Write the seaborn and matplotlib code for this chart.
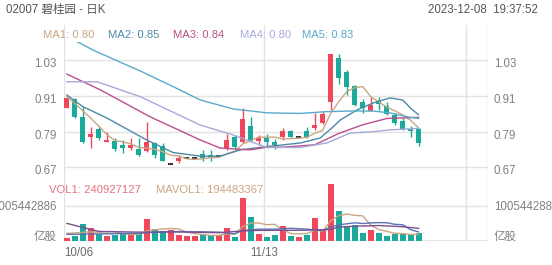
import numpy as np
import pandas as pd
import matplotlib
matplotlib.use("Agg")
import matplotlib.pyplot as plt
import matplotlib.transforms as mtransforms
import seaborn as sns

# ---------------- data ----------------
title = "02007 碧桂园 - 日K"
timestamp = "2023-12-08  19:37:52"
date_ticks = ["10/06", "11/13"]

open_ = [0.870, 0.899, 0.840, 0.772, 0.799, 0.754, 0.760, 0.745, 0.734, 0.732,
         0.725, 0.751, 0.743, 0.682, 0.692, 0.703, 0.703, 0.714, 0.712, 0.710,
         0.732, 0.771, 0.754, 0.810, 0.759, 0.773, 0.754, 0.773, 0.793, 0.773,
         0.792, 0.801, 0.818, 0.888, 1.038, 0.989, 0.943, 0.889, 0.859, 0.894,
         0.877, 0.846, 0.827, 0.798, 0.798]
close = [0.902, 0.840, 0.754, 0.781, 0.770, 0.762, 0.732, 0.734, 0.745, 0.712,
         0.754, 0.712, 0.693, 0.682, 0.703, 0.703, 0.703, 0.703, 0.703, 0.710,
         0.762, 0.740, 0.831, 0.759, 0.770, 0.756, 0.745, 0.793, 0.773, 0.773,
         0.771, 0.812, 0.848, 1.049, 0.969, 0.941, 0.879, 0.868, 0.879, 0.883,
         0.849, 0.820, 0.798, 0.792, 0.753]
high = [0.905, 0.902, 0.874, 0.807, 0.807, 0.790, 0.768, 0.762, 0.770, 0.769,
        0.821, 0.755, 0.751, 0.682, 0.712, 0.703, 0.703, 0.728, 0.728, 0.710,
        0.781, 0.779, 0.870, 0.838, 0.779, 0.781, 0.765, 0.801, 0.795, 0.773,
        0.807, 0.851, 0.857, 1.050, 1.049, 0.996, 0.946, 0.898, 0.907, 0.907,
        0.890, 0.853, 0.836, 0.809, 0.802]
low = [0.869, 0.837, 0.752, 0.734, 0.762, 0.754, 0.725, 0.717, 0.728, 0.710,
       0.722, 0.703, 0.691, 0.682, 0.684, 0.703, 0.703, 0.692, 0.692, 0.710,
       0.728, 0.732, 0.752, 0.754, 0.745, 0.736, 0.732, 0.762, 0.771, 0.773,
       0.769, 0.796, 0.816, 0.862, 0.949, 0.913, 0.875, 0.851, 0.859, 0.862,
       0.846, 0.812, 0.795, 0.773, 0.742]
volume = [77e6, 153e6, 479e6, 364e6, 190e6, 144e6, 172e6, 190e6, 240e6, 220e6,
          630e6, 335e6, 287e6, 316e6, 172e6, 144e6, 144e6, 172e6, 172e6, 172e6,
          364e6, 124e6, 1226e6, 680e6, 190e6, 124e6, 172e6, 440e6, 153e6, 124e6,
          172e6, 650e6, 316e6, 1628e6, 870e6, 410e6, 460e6, 240e6, 316e6, 220e6,
          144e6, 190e6, 190e6, 190e6, 240927127]

ma1 = [0.907, 0.885, 0.860, 0.835, 0.809, 0.781, 0.760, 0.756, 0.749, 0.737,
       0.735, 0.731, 0.723, 0.711, 0.709, 0.699, 0.697, 0.699, 0.703, 0.704,
       0.716, 0.724, 0.749, 0.760, 0.772, 0.771, 0.772, 0.765, 0.767, 0.768,
       0.771, 0.784, 0.795, 0.851, 0.890, 0.924, 0.937, 0.941, 0.907, 0.890,
       0.872, 0.860, 0.846, 0.828, 0.802]
ma2_x = [0, 2, 5, 10, 13.3, 16.7, 19.2, 21.7, 25, 29.2, 31.7, 33.3, 34.2, 36.3, 38.3, 40.4, 42, 43, 44]
ma2_y = [0.913, 0.874, 0.836, 0.762, 0.720, 0.708, 0.708, 0.729, 0.740, 0.752, 0.769, 0.806, 0.829,
         0.863, 0.886, 0.903, 0.896, 0.868, 0.846]
ma3_x = [0, 4.2, 10.4, 16.7, 19.2, 22.9, 25, 27, 31, 34, 37, 40, 44]
ma3_y = [0.983, 0.930, 0.840, 0.762, 0.735, 0.729, 0.738, 0.738, 0.746, 0.784, 0.813, 0.834, 0.838]
ma4_x = [0, 3.8, 9.2, 16.7, 20.8, 25, 29.2, 32.5, 35.4, 38.3, 40.4, 44]
ma4_y = [0.957, 0.957, 0.907, 0.812, 0.779, 0.737, 0.737, 0.752, 0.785, 0.790, 0.796, 0.801]
ma5_x = [0, 3.3, 9.2, 12.9, 16.7, 20.8, 25, 29.2, 32.5, 35.4, 38.3, 40.4, 42.5, 44]
ma5_y = [1.11, 1.063, 0.993, 0.946, 0.896, 0.866, 0.853, 0.851, 0.857, 0.859, 0.859, 0.853, 0.840, 0.834]
ma_labels = ["MA1: 0.80", "MA2: 0.85", "MA3: 0.84", "MA4: 0.80", "MA5: 0.83"]

mavol1 = [220e6, 230e6, 250e6, 260e6, 253e6, 266e6, 270e6, 212e6, 187e6, 193e6,
          290e6, 323e6, 342e6, 358e6, 348e6, 251e6, 213e6, 190e6, 161e6, 161e6,
          205e6, 201e6, 412e6, 513e6, 517e6, 469e6, 478e6, 321e6, 216e6, 203e6,
          212e6, 308e6, 283e6, 578e6, 727e6, 775e6, 737e6, 722e6, 459e6, 329e6,
          276e6, 222e6, 212e6, 187e6, 194483367]
mavol2_x = [0, 3, 6, 9, 12, 14, 17, 19, 21, 22, 24, 26, 28, 30, 32, 33, 34, 35, 36, 37, 38, 39, 40, 41, 42, 43, 44]
mavol2_y = [190e6, 200e6, 210e6, 223e6, 260e6, 271e6, 262e6, 254e6, 207e6, 301e6, 339e6, 340e6, 365e6,
            341e6, 302e6, 397e6, 465e6, 494e6, 522e6, 502e6, 519e6, 528e6, 525e6, 479e6, 467e6, 323e6, 260e6]
mavol3_x = [0, 2, 4, 9, 14, 19, 22, 24, 29, 33, 34, 36, 39, 42, 44]
mavol3_y = [508e6, 390e6, 275e6, 255e6, 260e6, 239e6, 289e6, 305e6, 307e6, 330e6, 402e6, 425e6,
            444e6, 410e6, 363e6]
vol_labels = ["VOL1: 240927127", "MAVOL1: 194483367"]
price_ticks = [0.67, 0.79, 0.91, 1.03]
vol_tick = 1005442886

# ---------------- style ----------------
sns.set_style("white")
plt.rcParams["font.family"] = ["Liberation Sans", "Noto Sans CJK SC", "DejaVu Sans"]

UP = "#f0475d"
DOWN = "#1aa99b"
GRID = "#e3e3e3"
TXT = "#808080"
MA_COLORS = ["#c9a682", "#4b8aa5", "#b9508c", "#a7a9dc", "#59aacb"]

W, H = 552, 265
fig = plt.figure(figsize=(W / 100, H / 100), dpi=100)

def fx(px):
    return px / W

def fy(py):
    return 1 - py / H

XL = (-0.34, 52.66)
left_px, right_px = 64, 488

# background axes for vertical gridlines
bg = fig.add_axes([fx(left_px), fy(241), fx(right_px - left_px), (241 - 25) / H])
bg.set_xlim(*XL)
bg.set_ylim(0, 1)
for xv in [XL[0], 24.66, 49.9, XL[1]]:
    bg.axvline(xv, color=GRID, lw=1)
bg.axis("off")

# price axes
axp = fig.add_axes([fx(left_px), fy(180), fx(right_px - left_px), (180 - 42) / H])
axp.patch.set_alpha(0)
axp.set_xlim(*XL)
axp.set_ylim(0.6281, 1.0902)
for t in price_ticks:
    axp.axhline(t, color=GRID, lw=1, zorder=0)
for s in axp.spines.values():
    s.set_visible(False)
axp.set_xticks([])
axp.set_yticks([])

idx = np.arange(len(close))
o = np.array(open_)
c = np.array(close)
colors = [UP if cc > oo else (DOWN if cc < oo else "#222222") for oo, cc in zip(o, c)]
wick_mask = np.array(high) > np.array(low)
axp.vlines(idx[wick_mask], np.array(low)[wick_mask], np.array(high)[wick_mask],
           colors=[colors[i] for i in idx[wick_mask]], lw=1, zorder=2)
body_mask = c != o
axp.bar(idx[body_mask], np.abs(c - o)[body_mask], bottom=np.minimum(c, o)[body_mask],
        width=0.64, color=[colors[i] for i in idx[body_mask]], zorder=3, linewidth=0)
doji = ~body_mask
axp.hlines(c[doji], idx[doji] - 0.34, idx[doji] + 0.34, colors="#222222", lw=1.3, zorder=3)

ma_sets = [(idx, ma1), (ma2_x, ma2_y), (ma3_x, ma3_y), (ma4_x, ma4_y), (ma5_x, ma5_y)]
for (xs, ys), col in zip(ma_sets, MA_COLORS):
    sns.lineplot(x=list(xs), y=list(ys), ax=axp, color=col, lw=1, sort=False,
                 estimator=None, zorder=4)
axp.set_xlabel("")
axp.set_ylabel("")

off = mtransforms.ScaledTranslation(0, -4 / 100, fig.dpi_scale_trans)
off_up = mtransforms.ScaledTranslation(0, 4 / 100, fig.dpi_scale_trans)
off_vt = mtransforms.ScaledTranslation(0, -1.5 / 100, fig.dpi_scale_trans)
for t in price_ticks:
    axp.text(-7 / 424, t, f"{t:.2f}", transform=axp.get_yaxis_transform() + off,
             ha="right", va="center", fontsize=8.3, color=TXT)
    axp.text(1 + 6 / 424, t, f"{t:.2f}", transform=axp.get_yaxis_transform() + off,
             ha="left", va="center", fontsize=8.3, color=TXT)

# volume axes
axv = fig.add_axes([fx(left_px), fy(241), fx(right_px - left_px), (241 - 180) / H])
axv.patch.set_alpha(0)
vdf = pd.DataFrame({"i": idx, "v": volume,
                    "d": ["up" if cc >= oo else "down" for oo, cc in zip(o, c)]})
sns.barplot(data=vdf, x="i", y="v", hue="d", palette={"up": UP, "down": DOWN},
            native_scale=True, width=0.76, dodge=False, legend=False, saturation=1,
            ax=axv, zorder=3, linewidth=0)
sns.lineplot(x=list(idx), y=mavol1, ax=axv, color=MA_COLORS[0], lw=1, zorder=4)
sns.lineplot(x=mavol2_x, y=mavol2_y, ax=axv, color="#5a74b2", lw=1, zorder=4)
sns.lineplot(x=mavol3_x, y=mavol3_y, ax=axv, color="#7d4f90", lw=1, zorder=4)
axv.set_xlim(*XL)
axv.set_ylim(0, 1.7523e9)
axv.axhline(vol_tick, color=GRID, lw=1, zorder=0)
axv.axhline(0, color=GRID, lw=1.2, zorder=1)
for s in axv.spines.values():
    s.set_visible(False)
axv.set_yticks([])
axv.set_ylabel("")
axv.set_xlabel("")
axv.set_xticks([-0.3, 24.66], date_ticks)
axv.tick_params(axis="x", length=0, pad=4, labelsize=8.3, labelcolor="#6a6a6a")
axv.get_xticklabels()[0].set_horizontalalignment("left")

axv.text(-7 / 424, vol_tick, str(vol_tick), transform=axv.get_yaxis_transform() + off_vt,
         ha="right", va="center", fontsize=8.3, color=TXT)
axv.text(1 + 6 / 424, vol_tick, str(vol_tick), transform=axv.get_yaxis_transform() + off_vt,
         ha="left", va="center", fontsize=8.3, color=TXT)
axv.text(-7 / 424, 0, "亿股", transform=axv.get_yaxis_transform() + off_up,
         ha="right", va="center", fontsize=8.3, color=TXT)
axv.text(1 + 6 / 424, 0, "亿股", transform=axv.get_yaxis_transform() + off_up,
         ha="left", va="center", fontsize=8.3, color=TXT)

# header texts
fig.text(fx(6), fy(10), title, ha="left", va="center", fontsize=8.3, color="#555555")
fig.text(fx(538), fy(10), timestamp, ha="right", va="center", fontsize=8.3, color="#555555")
ma_x = [43, 108, 173, 240, 302]
for xp, lab, col in zip(ma_x, ma_labels, MA_COLORS):
    fig.text(fx(xp), fy(35), lab, ha="left", va="center", fontsize=8.1, color=col)
fig.text(fx(49), fy(190), vol_labels[0], ha="left", va="center", fontsize=8.1, color="#e8707e")
fig.text(fx(156), fy(190), vol_labels[1], ha="left", va="center", fontsize=8.1, color=MA_COLORS[0])

fig.savefig("out.png", dpi=100)
